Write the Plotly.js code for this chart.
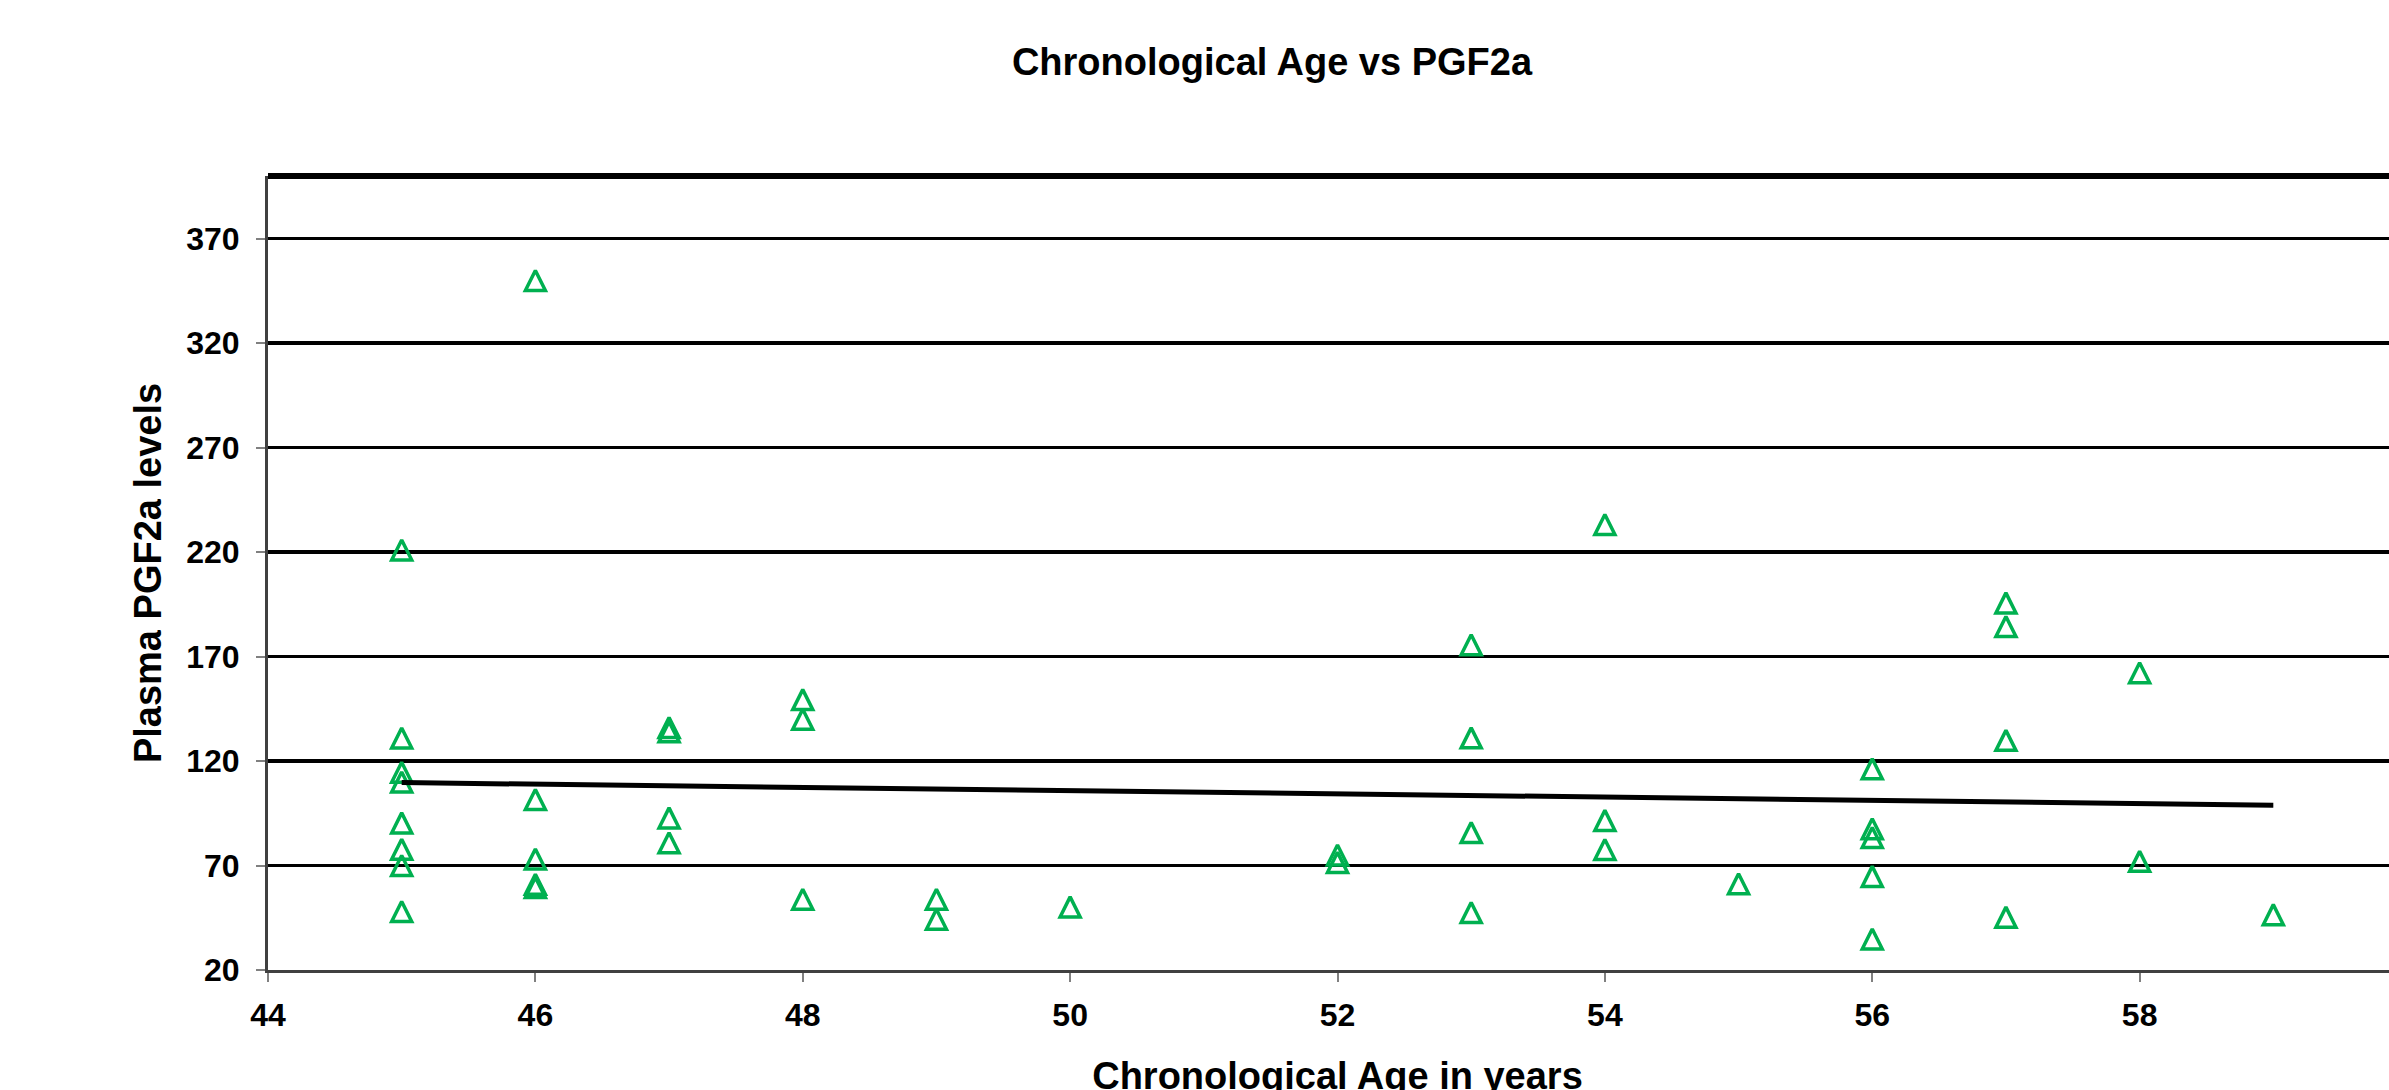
<!DOCTYPE html>
<html>
<head>
<meta charset="utf-8">
<script src="https://cdn.plot.ly/plotly-3.0.1.min.js"></script>
<style>
  html, body { margin: 0; padding: 0; background: #ffffff; overflow: hidden; }
  #chart { width: 2420px; height: 1130px; }
</style>
</head>
<body>
<div id="chart"></div>
<script>
// ---- data ----
const ages = [
  45, 45, 45, 45, 45, 45, 45, 45,
  46, 46, 46, 46, 46,
  47, 47, 47, 47,
  48, 48, 48,
  49, 49,
  50,
  52, 52,
  53, 53, 53, 53,
  54, 54, 54,
  55,
  56, 56, 56, 56, 56,
  57, 57, 57, 57,
  58, 58,
  59
];
const pgf2a = [
  221, 131, 114.6, 110, 90.4, 77.8, 70, 48,
  350, 101.6, 73.1, 61, 59.5,
  136, 134, 92.8, 80.9,
  149.4, 140, 53.9,
  53.9, 44.3,
  50.2,
  75, 71.5,
  175.7, 131.1, 85.8, 47.5,
  233.2, 91.6, 77.7,
  61.3,
  116.3, 87.6, 83.4, 64.8, 34.8,
  195.7, 184.4, 129.9, 45.3,
  162.3, 72,
  46.5
];
// linear trend line end points (as drawn in the reference)
const trendAges = [45, 59];
const trendValues = [109.7, 98.9];

const xTickVals = [44, 46, 48, 50, 52, 54, 56, 58];
const yTickVals = [20, 70, 120, 170, 220, 270, 320, 370];

const chartTitle = 'Chronological Age vs PGF2a';
const xTitle = 'Chronological Age in years';
const yTitle = 'Plasma PGF2a levels';

// ---- chart ----
const FONT = 'Liberation Sans, Arial, Helvetica, sans-serif';
const MSIZE = 20;
const H = 1130;

const traces = [
  {
    type: 'scatter',
    mode: 'markers',
    x: ages,
    y: pgf2a,
    name: 'PGF2a',
    marker: {
      symbol: 'arrow-down-open',
      angle: 180,
      standoff: MSIZE / 2,
      size: MSIZE,
      color: '#00B050',
      line: { color: '#00B050', width: 3.5 }
    },
    cliponaxis: false,
    hoverinfo: 'x+y'
  },
  {
    type: 'scatter',
    mode: 'lines',
    x: trendAges,
    y: trendValues,
    name: 'Linear trend',
    line: { color: '#000000', width: 5 },
    hoverinfo: 'skip'
  }
];

const layout = {
  width: 2420,
  height: H,
  margin: { l: 268, r: 13, t: 176, b: H - 970, pad: 0 },
  paper_bgcolor: '#ffffff',
  plot_bgcolor: '#ffffff',
  showlegend: false,
  font: { family: FONT, color: '#000000' },
  title: {
    text: chartTitle,
    font: { family: FONT, size: 38, weight: 'bold', color: '#000000' },
    xref: 'container',
    yref: 'container',
    x: 1272 / 2420,
    xanchor: 'center',
    y: 1 - 62 / H,
    yanchor: 'middle'
  },
  xaxis: {
    range: [44, 60],
    tickmode: 'array',
    tickvals: xTickVals,
    ticktext: xTickVals.map(String),
    tickfont: { family: FONT, size: 32, weight: 'bold', color: '#000000' },
    ticks: 'outside',
    ticklen: 9,
    tickwidth: 2,
    tickcolor: '#808080',
    ticklabelstandoff: 6,
    showline: true,
    linecolor: '#404040',
    linewidth: 3,
    showgrid: false,
    zeroline: false,
    fixedrange: true,
    title: {
      text: xTitle,
      font: { family: FONT, size: 38, weight: 'bold', color: '#000000' },
      standoff: 30
    }
  },
  yaxis: {
    range: [20, 400],
    tickmode: 'array',
    tickvals: yTickVals,
    ticktext: yTickVals.map(String),
    tickfont: { family: FONT, size: 32, weight: 'bold', color: '#000000' },
    ticks: 'outside',
    ticklen: 9,
    tickwidth: 2,
    tickcolor: '#808080',
    ticklabelstandoff: 10,
    showline: true,
    linecolor: '#404040',
    linewidth: 3,
    showgrid: true,
    gridcolor: '#000000',
    gridwidth: 3.5,
    zeroline: false,
    fixedrange: true,
    title: {
      text: yTitle,
      font: { family: FONT, size: 38, weight: 'bold', color: '#000000' },
      standoff: 13
    }
  },
  shapes: [
    {
      type: 'line',
      xref: 'paper', yref: 'paper',
      x0: 0, x1: 1, y0: 1, y1: 1,
      line: { color: '#000000', width: 6 },
      layer: 'above'
    }
  ]
};

Plotly.newPlot('chart', traces, layout, { staticPlot: true, displayModeBar: false });
</script>
</body>
</html>
